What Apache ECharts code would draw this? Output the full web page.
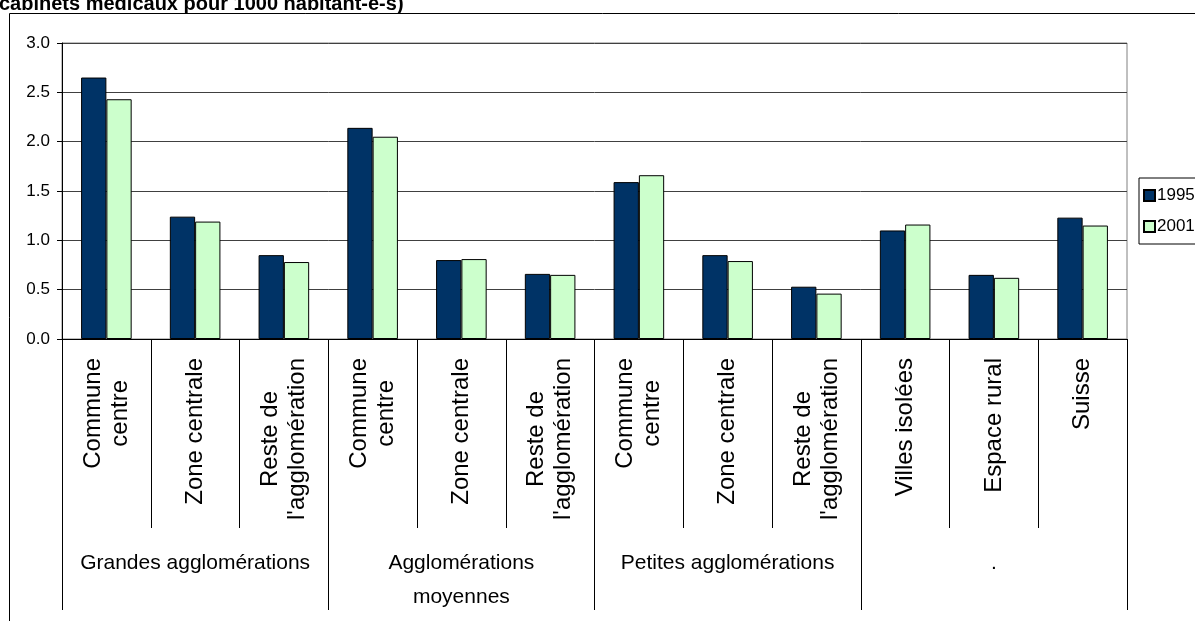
<!DOCTYPE html>
<html>
<head>
<meta charset="utf-8">
<script src="https://cdn.jsdelivr.net/npm/echarts@6/dist/echarts.min.js"></script>
<style>
html,body{margin:0;padding:0;background:#fff;}
#chart{width:1195px;height:621px;}
</style>
</head>
<body>
<div id="chart"></div>
<script>
const titleText = "cabinets médicaux pour 1000 habitant-e-s)";
const categories = [
  "Commune\ncentre", "Zone centrale", "Reste de\nl'agglomération",
  "Commune\ncentre", "Zone centrale", "Reste de\nl'agglomération",
  "Commune\ncentre", "Zone centrale", "Reste de\nl'agglomération",
  "Villes isolées", "Espace rural", "Suisse"
];
const groups = ["Grandes agglomérations", "Agglomérations\nmoyennes", "Petites agglomérations", "."];
const seriesNames = ["1995", "2001"];
const values1995 = [2.65, 1.24, 0.85, 2.14, 0.80, 0.66, 1.59, 0.85, 0.53, 1.10, 0.65, 1.23];
const values2001 = [2.43, 1.19, 0.78, 2.05, 0.81, 0.65, 1.66, 0.79, 0.46, 1.16, 0.62, 1.15];
const yTicks = { min: 0, max: 3, interval: 0.5 };

const FONT = "'Liberation Sans', Arial, sans-serif";
const chart = echarts.init(document.getElementById('chart'), null, { renderer: 'canvas' });

const option = {
  animation: false,
  backgroundColor: '#fff',
  textStyle: { fontFamily: FONT },
  title: {
    text: titleText,
    left: -1, top: -6,
    padding: 0,
    textStyle: { fontFamily: FONT, fontSize: 20, fontWeight: 'bold', color: '#000' }
  },
  graphic: [{
    type: 'polyline',
    silent: true,
    shape: { points: [[9.5, 621], [9.5, 13.5], [1195, 13.5]] },
    style: { stroke: '#000', lineWidth: 1, fill: null }
  }],
  legend: {
    orient: 'vertical',
    left: 1139, top: 178,
    padding: [9, 8, 9, 4],
    itemGap: 14,
    itemWidth: 11, itemHeight: 11,
    borderColor: '#000', borderWidth: 1,
    icon: 'rect',
    textStyle: { fontFamily: FONT, fontSize: 17, color: '#000', padding: [0, 0, 0, -3] },
    data: seriesNames
  },
  grid: {
    left: 62, top: 43, right: 68, bottom: 282,
    show: true, borderColor: '#808080', borderWidth: 1,
    containLabel: false
  },
  xAxis: [{
    type: 'category',
    data: categories,
    axisLine: { show: true, lineStyle: { color: '#000', width: 1 } },
    axisTick: { show: true, interval: 0, length: 189, lineStyle: { color: '#000' } },
    axisLabel: {
      interval: 0, rotate: 90, margin: 19,
      color: '#000', fontFamily: FONT, fontSize: 24, lineHeight: 27,
      formatter: v => v.split('\n').map(l => '{c|' + l + '}').join('\n'),
      rich: { c: { align: 'center', fontFamily: FONT, fontSize: 24, lineHeight: 27, color: '#000' } }
    },
    splitLine: { show: false }
  }, {
    type: 'category',
    position: 'bottom',
    data: groups,
    axisLine: { show: false },
    axisTick: { show: true, interval: 0, length: 271, lineStyle: { color: '#000' } },
    axisLabel: {
      interval: 0, margin: 207,
      color: '#000', fontFamily: FONT, fontSize: 21, lineHeight: 34
    },
    splitLine: { show: false }
  }],
  yAxis: {
    type: 'value',
    min: yTicks.min, max: yTicks.max, interval: yTicks.interval,
    axisLine: { show: true, lineStyle: { color: '#000' } },
    axisTick: { show: true, length: 5, lineStyle: { color: '#000' } },
    axisLabel: {
      margin: 12, color: '#000', fontFamily: FONT, fontSize: 17,
      formatter: v => v.toFixed(1)
    },
    splitLine: { show: true, lineStyle: { color: '#404040', width: 1 } }
  },
  series: [{
    name: seriesNames[0],
    type: 'bar',
    xAxisIndex: 0,
    data: values1995,
    barGap: '0%',
    barCategoryGap: '43%',
    itemStyle: { color: '#003366', borderColor: '#000', borderWidth: 1 }
  }, {
    name: seriesNames[1],
    type: 'bar',
    xAxisIndex: 0,
    data: values2001,
    barGap: '0%',
    barCategoryGap: '43%',
    itemStyle: { color: '#CCFFCC', borderColor: '#000', borderWidth: 1 }
  }]
};
chart.setOption(option);
</script>
</body>
</html>
